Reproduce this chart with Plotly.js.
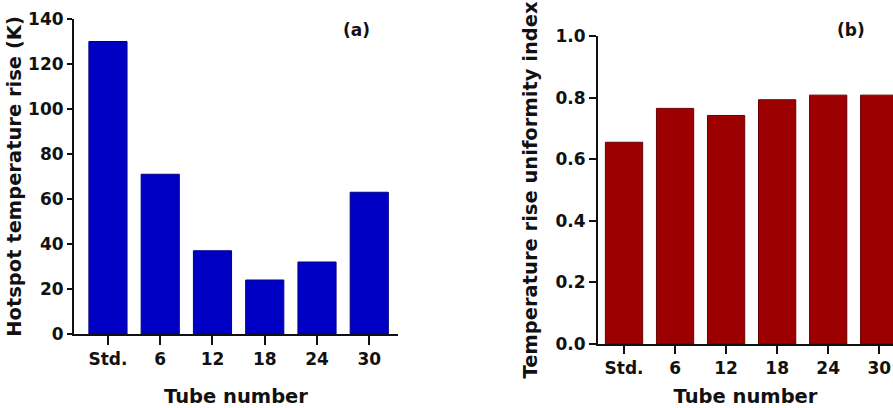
<!DOCTYPE html>
<html>
<head>
<meta charset="utf-8">
<script src="https://cdn.plot.ly/plotly-3.0.1.min.js"></script>
<style>html,body{margin:0;padding:0;background:#fff;}#chart{width:893px;height:408px;}</style>
</head>
<body>
<div id="chart"></div>
<script>
const categories = ["Std.", "6", "12", "18", "24", "30"];
const hotspotRise = [130, 71, 37, 24, 32, 63];
const uniformityIndex = [0.655, 0.765, 0.742, 0.793, 0.808, 0.808];
const leftTicks = [0, 20, 40, 60, 80, 100, 120, 140];
const rightTicks = [0, 0.2, 0.4, 0.6, 0.8, 1.0];

const W = 893, H = 408;
const px = v => v / W;
const py = v => 1 - v / H;
const FONT = "DejaVu Sans, Verdana, Arial, sans-serif";
const tickFont = {family: FONT, size: 17, color: "#111", weight: "bold"};
const titleFont = {family: FONT, size: 19.5, color: "#111", weight: "bold"};

const axisCommon = {
  showgrid: false, zeroline: false, showline: true, linecolor: "#111", linewidth: 2,
  ticks: "outside", tickcolor: "#111", tickwidth: 2, tickfont: tickFont,
  fixedrange: true
};

const traces = [
  {type: "bar", x: categories, y: hotspotRise, xaxis: "x", yaxis: "y",
   marker: {color: "#0000c4", line: {color: "#00008a", width: 1}}, hoverinfo: "x+y"},
  {type: "bar", x: categories, y: uniformityIndex, xaxis: "x2", yaxis: "y2",
   marker: {color: "#9c0000", line: {color: "#6a0000", width: 1}}, hoverinfo: "x+y"}
];

const layout = {
  width: W, height: H,
  margin: {l: 0, r: 0, t: 0, b: 0},
  paper_bgcolor: "#fff", plot_bgcolor: "#fff",
  showlegend: false, bargap: 0.27,
  xaxis: Object.assign({}, axisCommon, {domain: [px(74), px(398)], anchor: "y", type: "category", ticklen: 9,
    range: [-0.65, 5.55], title: {text: "Tube number", font: titleFont, standoff: 22}}),
  yaxis: Object.assign({}, axisCommon, {domain: [py(334), py(19)], anchor: "x", range: [0, 140], ticklen: 5,
    tickvals: leftTicks, title: {text: "Hotspot temperature rise (K)", font: titleFont, standoff: 1}}),
  xaxis2: Object.assign({}, axisCommon, {domain: [px(598), 1], anchor: "y2", type: "category", ticklen: 8,
    range: [-0.51, 5.27], title: {text: "Tube number", font: titleFont, standoff: 15}}),
  yaxis2: Object.assign({}, axisCommon, {domain: [py(344), py(36)], anchor: "x2", range: [0, 1.0], ticklen: 7,
    tickvals: rightTicks, tickformat: ".1f", title: {text: "Temperature rise uniformity index", font: titleFont, standoff: 13}}),
  annotations: [
    {text: "(a)", xref: "paper", yref: "paper", x: px(356), y: py(30), showarrow: false,
     font: {family: FONT, size: 17, color: "#111", weight: "bold"}, xanchor: "center", yanchor: "middle"},
    {text: "(b)", xref: "paper", yref: "paper", x: px(851), y: py(30), showarrow: false,
     font: {family: FONT, size: 17, color: "#111", weight: "bold"}, xanchor: "center", yanchor: "middle"}
  ]
};

Plotly.newPlot("chart", traces, layout, {displayModeBar: false, staticPlot: true});
</script>
</body>
</html>
